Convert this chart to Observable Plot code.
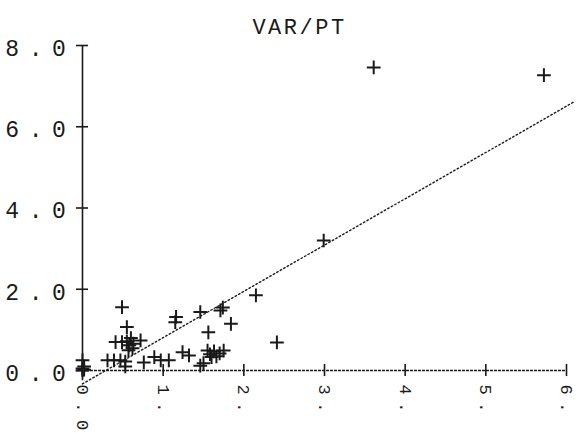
<!DOCTYPE html>
<html>
<head>
<meta charset="utf-8">
<script src="https://cdn.jsdelivr.net/npm/d3@7"></script>
<script src="https://cdn.jsdelivr.net/npm/@observablehq/plot@0.6"></script>
<style>
  html, body { margin: 0; padding: 0; background: #fff; }
</style>
</head>
<body>
<div id="chart"></div>
<script>
const title = "VAR/PT";
const xTicks = [0, 1, 2, 3, 4, 5, 6];
const xTickLabels = ["0.0", "1.", "2.", "3.", "4.", "5.", "6."];
const yTicks = [0, 2, 4, 6, 8];
const yTickLabels = ["0.0", "2.0", "4.0", "6.0", "8.0"];

const ptX = [0.00, 0.00, 0.02, 0.00, 0.02, 0.49, 0.55, 0.41, 0.49, 0.55, 0.60, 0.63, 0.58, 0.72, 0.62, 0.57,
             0.31, 0.39, 0.47, 0.53, 0.53, 0.76, 0.89, 0.97, 1.07, 1.15, 1.16, 1.24, 1.32, 1.46, 1.56, 1.46,
             1.50, 1.55, 1.58, 1.63, 1.66, 1.60, 1.70, 1.75, 1.71, 1.74, 1.84, 2.15, 2.41, 2.99, 3.61, 5.72];
const ptY = [0.00, 0.05, 0.10, 0.25, 0.02, 1.56, 1.07, 0.70, 0.70, 0.72, 0.80, 0.66, 0.62, 0.74, 0.55, 0.50,
             0.25, 0.25, 0.25, 0.22, 0.10, 0.20, 0.33, 0.25, 0.25, 1.19, 1.32, 0.45, 0.37, 1.44, 0.94, 0.12,
             0.18, 0.49, 0.40, 0.47, 0.35, 0.33, 0.42, 0.49, 1.48, 1.55, 1.15, 1.85, 0.69, 3.20, 7.46, 7.27];

const fitX = [0, 6.1];
const fitY = [-0.33, 6.62];

const points = ptX.map((x, i) => ({x, y: ptY[i]}));
const fit = fitX.map((x, i) => ({x, y: fitY[i]}));
const xt = xTicks.map((v, i) => ({v, label: xTickLabels[i]}));
const yt = yTicks.map((v, i) => ({v, label: yTickLabels[i]}));

const ink = "#1a1a1a";
const font = "Liberation Mono";

const plot = Plot.plot({
  width: 576,
  height: 440,
  marginLeft: 82,
  marginRight: 10,
  marginTop: 45,
  marginBottom: 70,
  x: {domain: [0, 6], axis: null},
  y: {domain: [0, 8], axis: null},
  style: {background: "#fff", fontFamily: font},
  marks: [
    Plot.line(fit, {x: "x", y: "y", stroke: ink, strokeWidth: 1.4, strokeDasharray: "1.5,2.5", clip: false}),
    Plot.ruleX([0], {y1: -0.25, y2: 8, stroke: ink, strokeWidth: 1.6}),
    Plot.ruleY([0], {x1: 0, x2: 6, stroke: ink, strokeWidth: 1.6, strokeDasharray: "3,1"}),
    Plot.ruleX(xt, {x: "v", y1: -0.15, y2: 0.15, stroke: ink, strokeWidth: 1.6}),
    Plot.ruleY(yt, {y: "v", x1: -0.075, x2: 0.075, stroke: ink, strokeWidth: 1.6}),
    Plot.dot(points, {x: "x", y: "y", symbol: "plus", r: 4.5, stroke: ink, strokeWidth: 2}),
    Plot.text(yt, {x: 0, y: "v", text: "label", textAnchor: "end", dx: -7, dy: 3, fontSize: 23, fill: ink}),
    Plot.text(xt, {x: "v", y: 0, text: "label", rotate: 90, textAnchor: "start", lineAnchor: "middle", dy: 14, dx: 0, fontSize: 17, fill: ink}),
    Plot.text([title], {frameAnchor: "top", lineAnchor: "bottom", dy: -12, dx: -25, fontSize: 22, fill: ink})
  ]
});

const textGroups = plot.querySelectorAll('g[aria-label="text"]');
const spacings = ["9.6px", "7.5px", "2.5px"];
textGroups.forEach((g, i) => {
  g.querySelectorAll("text").forEach(t => t.style.letterSpacing = spacings[i] || "0px");
});

document.getElementById("chart").appendChild(plot);
</script>
</body>
</html>
